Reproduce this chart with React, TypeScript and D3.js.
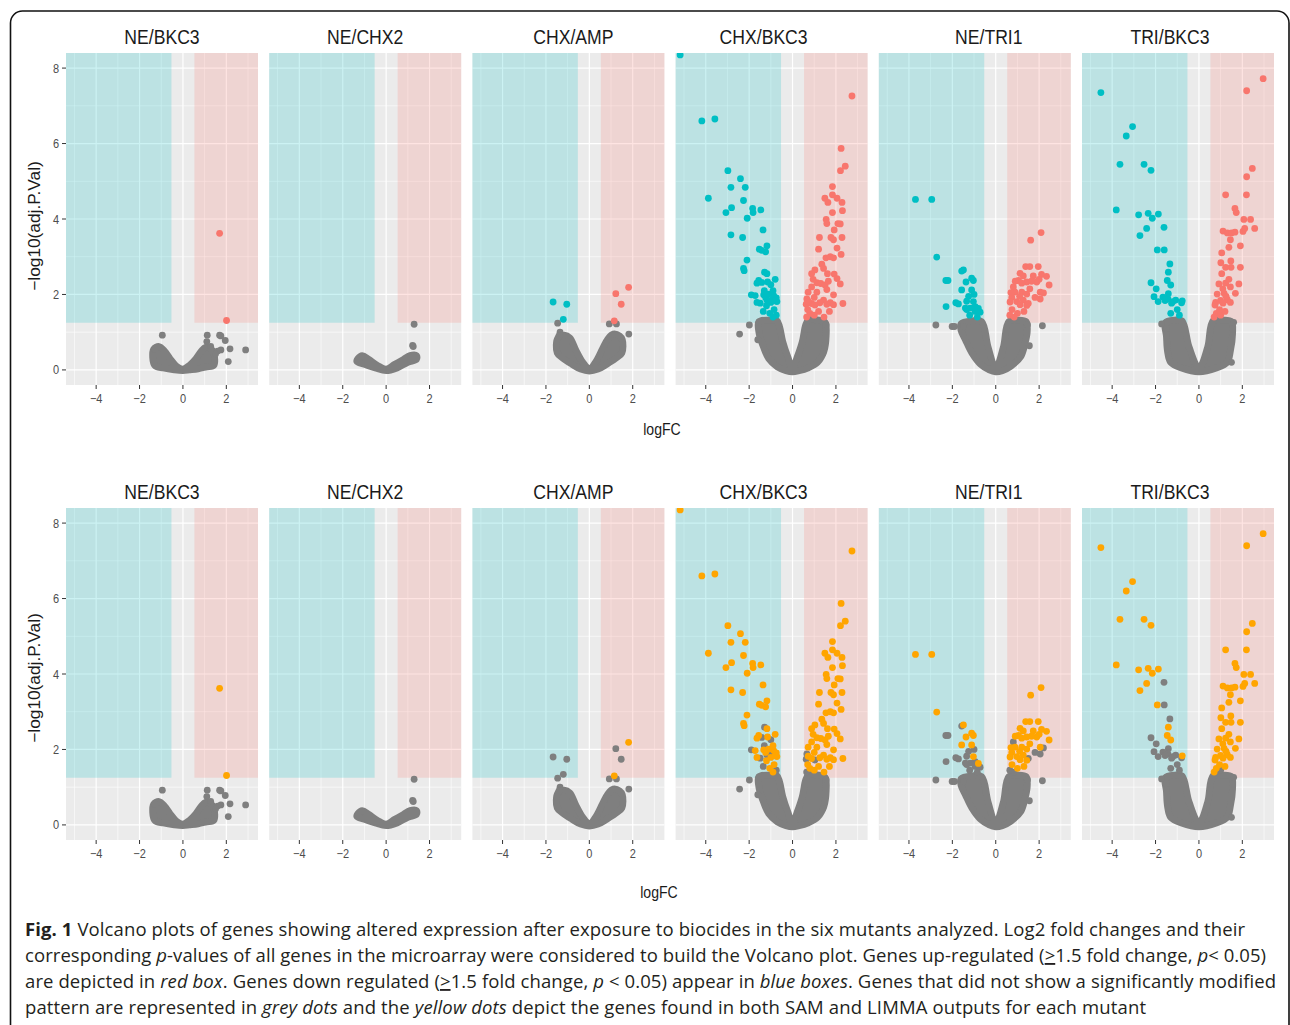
import React from "react";
import * as d3 from "d3";

type P2 = [number, number];
type P3 = [number, number, number];

// ---------- DATA ----------
const panelTitles = ["NE/BKC3", "NE/CHX2", "CHX/AMP", "CHX/BKC3", "NE/TRI1", "TRI/BKC3"];
const xTicks = [-4, -2, 0, 2];
const xMinor = [-5, -3, -1, 1, 3];
const yTicks = [0, 2, 4, 6, 8];
const yMinor = [1, 3, 5, 7];
const fcThreshold = 0.53;
const pThreshold = 1.25;

// grey cloud outlines (logFC, -log10 p)
const cloudNEBKC3: P2[] = [[-1.35,0.55],[-1.1,0.62],[-0.85,0.5],[-0.6,0.3],[-0.3,0.1],[0,0.02],[0.3,0.12],[0.6,0.3],[0.85,0.5],[1.05,0.6],[1.25,0.58],[1.42,0.45],[1.42,0.12],[1.1,0.08],[0.7,0.03],[0.3,0.0],[0,-0.02],[-0.4,0.0],[-0.9,0.05],[-1.3,0.12]];
const cloudNECHX2: P2[] = [[-1.3,0.3],[-1.1,0.38],[-0.8,0.28],[-0.4,0.12],[0,0.02],[0.4,0.15],[0.8,0.28],[1.1,0.38],[1.4,0.38],[1.4,0.28],[1.0,0.2],[0.5,0.05],[0,-0.02],[-0.5,0.05],[-1.0,0.15],[-1.35,0.22]];
const cloudCHXAMP: P2[] = [[-1.45,0.85],[-1.15,0.92],[-0.9,0.85],[-0.6,0.5],[-0.3,0.2],[0,0.03],[0.3,0.22],[0.6,0.55],[0.85,0.82],[1.1,0.95],[1.4,0.9],[1.52,0.8],[1.5,0.45],[1.2,0.3],[0.8,0.15],[0.4,0.02],[0,-0.03],[-0.4,0.02],[-0.8,0.15],[-1.2,0.3],[-1.48,0.45]];
const cloudCHXBKC3: P2[] = [[-1.55,1.28],[-1.0,1.32],[-0.72,1.3],[-0.6,1.15],[-0.45,0.75],[-0.22,0.35],[0,0.05],[0.22,0.35],[0.45,0.75],[0.6,1.18],[0.72,1.32],[1.2,1.32],[1.5,1.26],[1.55,0.9],[1.45,0.5],[1.15,0.2],[0.7,0.05],[0.3,-0.02],[0,-0.05],[-0.3,-0.02],[-0.7,0.08],[-1.1,0.3],[-1.4,0.7],[-1.55,1.0]];
const cloudNETRI1: P2[] = [[-1.6,1.22],[-1.1,1.3],[-0.65,1.28],[-0.35,0.6],[0,0.05],[0.35,0.6],[0.6,1.28],[1.0,1.32],[1.4,1.28],[1.45,1.0],[1.35,0.7],[1.15,0.35],[0.7,0.1],[0.3,-0.02],[0,-0.05],[-0.3,0.0],[-0.7,0.15],[-1.1,0.45],[-1.4,0.8],[-1.6,1.05]];
const cloudTRIBKC3: P2[] = [[-1.55,1.25],[-1.1,1.32],[-0.78,1.3],[-0.45,0.6],[0,0.05],[0.4,0.6],[0.65,1.3],[1.1,1.32],[1.5,1.28],[1.55,0.95],[1.45,0.5],[1.3,0.2],[0.8,0.05],[0,-0.05],[-0.8,0.05],[-1.3,0.2],[-1.45,0.5],[-1.5,0.9]];

// non-significant outliers
const greyNEBKC3: P2[] = [[-0.95,0.92],[1.12,0.92],[1.69,0.92],[1.75,0.9],[1.95,0.78],[2.17,0.56],[2.89,0.53],[2.09,0.22],[1.75,0.53],[1.28,0.62],[1.6,0.5],[1.5,0.42],[-1.3,0.55],[1.1,0.75]];
const greyNECHX2: P2[] = [[1.29,1.21],[1.22,0.65],[1.25,0.62]];
const greyCHXAMP: P2[] = [[-1.46,1.24],[-1.35,1.0],[0.92,1.22],[1.25,1.22],[1.82,0.95],[-1.4,0.9]];
const greyCHXBKC3: P2[] = [[-1.99,1.19],[-2.44,0.95],[1.4,0.44],[1.55,1.2],[-1.6,0.8]];
const greyNETRI1: P2[] = [[-2.76,1.19],[-2.01,1.15],[-1.9,1.15],[2.15,1.17],[1.46,1.2],[1.55,0.64],[-1.49,1.15]];
const greyTRIBKC3: P2[] = [[-1.72,1.22],[1.6,1.26],[-1.5,1.1],[1.5,0.2]];

// down-regulated (logFC, -log10 p, found in SAM & LIMMA)
const downNEBKC3: P3[] = [];
const downNECHX2: P3[] = [];
const downCHXAMP: P3[] = [[-1.67,1.80,0],[-1.04,1.74,0],[-1.2,1.34,0]];
const downCHXBKC3: P3[] = [[-5.18,8.35,1],[-4.18,6.60,1],[-3.58,6.65,1],[-2.98,5.28,1],[-2.40,5.07,1],[-2.84,4.84,1],[-2.18,4.84,1],[-3.88,4.55,1],[-2.26,4.49,1],[-2.81,4.30,1],[-3.07,4.17,1],[-1.84,4.28,1],[-1.82,4.17,1],[-1.46,4.24,1],[-2.09,4.02,1],[-1.36,3.71,1],[-2.84,3.58,1],[-2.30,3.51,1],[-1.18,3.29,1],[-1.53,3.20,1],[-1.42,3.17,1],[-1.24,3.13,1],[-2.10,2.91,1],[-2.26,2.69,1],[-2.23,2.63,1],[-1.29,2.59,0],[-1.18,2.55,1],[-0.80,2.40,1],[-1.56,2.37,1],[-1.64,2.30,1],[-1.42,2.32,0],[-1.0,2.26,0],[-1.15,2.33,1],[-1.90,1.99,0],[-1.72,1.97,1],[-1.33,1.99,1],[-0.87,1.97,1],[-1.24,1.92,1],[-0.75,1.91,1],[-0.95,1.86,0],[-1.18,1.85,0],[-1.64,1.79,1],[-1.49,1.77,0],[-1.0,1.79,1],[-0.72,1.81,1],[-0.8,1.83,1],[-1.1,2.01,1],[-1.3,2.1,0],[-0.9,2.1,1],[-1.2,1.7,1],[-0.85,1.6,1],[-1.05,1.5,1],[-0.75,1.45,0],[-1.35,1.55,0],[-0.9,1.4,1]];
const downNETRI1: P3[] = [[-3.70,4.52,1],[-2.95,4.52,1],[-2.72,2.99,1],[-1.49,2.65,1],[-1.57,2.62,0],[-2.30,2.37,0],[-2.2,2.37,0],[-1.11,2.43,1],[-1.03,2.37,1],[-1.37,2.33,1],[-1.57,2.12,1],[-1.11,2.12,1],[-1.84,1.78,0],[-1.72,1.75,0],[-1.34,1.82,0],[-1.03,1.81,1],[-2.29,1.68,0],[-0.95,1.68,0],[-1.18,1.64,0],[-0.80,1.63,1],[-1.34,1.60,0],[-0.95,1.55,0],[-0.72,1.53,0],[-1.4,1.64,0],[-1.2,1.45,0],[-0.85,1.4,0],[-1.0,2.0,0],[-1.25,1.95,0]];
const downTRIBKC3: P3[] = [[-4.52,7.35,1],[-3.06,6.45,1],[-3.35,6.20,1],[-3.64,5.45,1],[-2.53,5.45,1],[-2.21,5.29,1],[-3.81,4.24,1],[-2.78,4.11,1],[-2.34,4.15,1],[-2.15,4.02,1],[-1.87,4.13,1],[-2.41,3.75,1],[-1.61,3.78,0],[-2.72,3.56,1],[-1.92,3.18,1],[-1.60,3.18,0],[-1.34,2.81,0],[-1.41,2.59,1],[-2.21,2.31,0],[-1.97,2.15,0],[-1.46,2.37,1],[-1.3,2.25,1],[-2.07,1.94,0],[-1.66,1.93,0],[-1.41,2.02,0],[-1.43,1.88,0],[-1.56,1.84,0],[-1.88,1.81,0],[-1.07,1.85,0],[-0.77,1.83,1],[-1.2,1.81,0],[-1.26,1.77,0],[-0.8,1.78,0],[-1.0,1.6,0],[-1.3,1.5,0],[-0.9,1.45,0]];

// up-regulated
const upNEBKC3: P3[] = [[1.69,3.62,1],[2.01,1.31,1]];
const upNECHX2: P3[] = [];
const upCHXAMP: P3[] = [[1.22,2.02,0],[1.81,2.19,1],[1.47,1.74,0],[1.15,1.30,1]];
const upCHXBKC3: P3[] = [[2.74,7.26,1],[2.24,5.87,1],[2.43,5.40,1],[2.21,5.28,1],[1.84,4.86,1],[1.49,4.55,1],[1.84,4.64,1],[2.05,4.55,1],[2.28,4.44,1],[1.63,4.44,1],[1.84,4.17,1],[2.30,4.22,1],[1.55,3.99,1],[1.58,3.88,1],[2.09,3.88,1],[2.2,3.87,1],[1.92,3.71,1],[1.24,3.51,1],[1.77,3.51,1],[2.28,3.51,1],[1.89,3.45,1],[2.05,3.23,1],[1.20,3.20,1],[2.24,3.06,1],[1.54,2.97,1],[1.74,3.00,1],[1.89,2.97,1],[1.35,2.80,1],[1.03,2.65,1],[1.43,2.69,1],[0.88,2.55,1],[1.61,2.55,1],[1.92,2.54,1],[2.05,2.42,1],[1.12,2.31,1],[1.3,2.29,1],[1.5,2.25,1],[2.2,2.28,1],[0.88,2.20,1],[0.72,2.06,1],[1.12,2.06,1],[1.58,2.13,1],[1.89,1.99,1],[1.0,1.92,1],[0.66,1.88,0],[1.43,1.85,1],[1.26,1.78,1],[0.88,1.76,1],[1.74,1.78,1],[2.32,1.76,1],[0.63,1.74,0],[1.89,1.73,1],[1.58,1.74,1],[1.03,1.72,0],[0.72,1.82,1],[0.8,1.5,1],[1.0,1.45,1],[0.65,1.4,0],[1.2,1.55,1],[1.7,1.55,1],[0.95,2.4,1],[1.65,2.35,1],[0.7,1.6,1],[1.45,1.4,1]];
const upNETRI1: P3[] = [[2.09,3.64,1],[1.61,3.44,1],[1.38,2.74,1],[1.57,2.74,1],[1.96,2.74,1],[1.12,2.56,1],[1.27,2.49,1],[1.73,2.49,1],[2.11,2.53,1],[2.34,2.48,1],[2.46,2.25,1],[1.05,2.37,1],[1.43,2.33,1],[1.89,2.33,1],[2.05,2.06,1],[2.2,2.04,0],[1.81,1.92,0],[2.05,1.88,0],[0.81,2.2,0],[0.89,2.06,1],[1.2,2.06,1],[1.43,2.01,1],[1.57,2.15,1],[0.74,1.92,1],[0.97,1.81,1],[1.27,1.85,1],[0.66,1.8,1],[1.12,1.73,1],[1.43,1.71,1],[1.5,1.76,0],[0.75,1.6,1],[1.0,1.5,1],[0.65,1.45,0],[1.3,1.55,1],[0.9,2.35,1],[1.65,2.35,1],[2.0,2.4,1],[1.2,2.3,1],[0.85,1.4,0],[1.1,1.95,1],[0.7,2.05,1]];
const upTRIBKC3: P3[] = [[2.96,7.72,1],[2.20,7.40,1],[2.46,5.34,1],[2.20,5.12,1],[1.23,4.64,1],[2.19,4.64,1],[1.66,4.28,1],[1.72,4.17,1],[2.07,3.99,1],[2.38,3.99,1],[2.57,3.75,1],[1.11,3.68,1],[1.31,3.63,1],[1.50,3.63,1],[1.66,3.65,1],[2.03,3.67,1],[2.11,3.75,1],[1.45,3.45,1],[1.38,3.25,1],[1.91,3.29,1],[1.05,3.1,1],[1.01,2.84,1],[1.23,2.72,1],[1.47,2.89,1],[1.48,2.72,1],[1.91,2.72,1],[1.05,2.55,1],[1.23,2.3,1],[1.38,2.4,1],[1.84,2.28,1],[0.92,2.28,1],[1.45,2.2,1],[1.68,2.03,1],[1.16,2.03,1],[0.84,2.01,1],[1.31,1.86,1],[1.0,1.84,1],[0.77,1.79,1],[1.11,1.77,1],[1.45,1.79,1],[0.74,1.72,1],[0.8,1.5,1],[1.0,1.45,0],[1.2,1.55,1],[0.7,1.4,1],[1.1,2.15,1],[0.95,1.6,1],[1.25,1.95,1]];

const captionLines: (string | { t: string; s: "b" | "i" | "u" })[][] = [
  [{ t: "Fig. 1", s: "b" }, " Volcano plots of genes showing altered expression after exposure to biocides in the six mutants analyzed. Log2 fold changes and their"],
  ["corresponding ", { t: "p", s: "i" }, "-values of all genes in the microarray were considered to build the Volcano plot. Genes up-regulated (", { t: ">", s: "u" }, "1.5 fold change, ", { t: "p", s: "i" }, "< 0.05)"],
  ["are depicted in ", { t: "red box", s: "i" }, ". Genes down regulated (", { t: ">", s: "u" }, "1.5 fold change, ", { t: "p", s: "i" }, " < 0.05) appear in ", { t: "blue boxes", s: "i" }, ". Genes that did not show a significantly modified"],
  ["pattern are represented in ", { t: "grey dots", s: "i" }, " and the ", { t: "yellow dots", s: "i" }, " depict the genes found in both SAM and LIMMA outputs for each mutant"],
];

const clouds = [cloudNEBKC3, cloudNECHX2, cloudCHXAMP, cloudCHXBKC3, cloudNETRI1, cloudTRIBKC3];
const greys = [greyNEBKC3, greyNECHX2, greyCHXAMP, greyCHXBKC3, greyNETRI1, greyTRIBKC3];
const downs = [downNEBKC3, downNECHX2, downCHXAMP, downCHXBKC3, downNETRI1, downTRIBKC3];
const ups = [upNEBKC3, upNECHX2, upCHXAMP, upCHXBKC3, upNETRI1, upTRIBKC3];

// ---------- STYLE / LAYOUT ----------
const W = 1290, H = 1025;
const FONT = "'Liberation Sans', Arial, Helvetica, sans-serif";
const panelW = 192;
const panelStep = 203.2;
const panelLeft0 = 66;
const titleDx = [0, 0, 5, -8, 14, -8];
const rows = [
  { top: 53, bottom: 385, mode: "sig", xlabY: 435, xlabX: 662, ylabY: 226 },
  { top: 508, bottom: 840, mode: "both", xlabY: 898, xlabX: 659, ylabY: 678 },
];
const BG = "#ebebeb";
const CYAN = "#00BFC4";
const RED = "#F8766D";
const GREY = "#7f7f7f";
const ORANGE = "#FFA500";
const R = 3.4;
const SX = 0.88; // horizontal squeeze of plot text
const fmt = (v: number) => (v < 0 ? "\u2212" + Math.abs(v) : String(v));

function SText({ x, y, size, fill, anchor, children }: any) {
  return (
    <text
      transform={`translate(${x},${y}) scale(${SX},1)`}
      textAnchor={anchor || "middle"}
      fontSize={size}
      fill={fill}
      fontFamily={FONT}
    >
      {children}
    </text>
  );
}

function Panel({ i, row }: { i: number; row: typeof rows[number] }) {
  const x0 = panelLeft0 + i * panelStep;
  const x = d3.scaleLinear().domain([-5.39, 3.46]).range([x0, x0 + panelW]);
  const y = d3.scaleLinear().domain([-0.4, 8.4]).range([row.bottom, row.top]);
  const line = d3.line<P2>().x((d) => x(d[0])).y((d) => y(d[1])).curve(d3.curveCatmullRomClosed.alpha(0.5));
  const clipId = `clip-${i}-${row.top}`;
  const up = ups[i], down = downs[i];
  const isBoth = row.mode === "both";
  const colored = [...down.map((d) => ({ d, c: CYAN })), ...up.map((d) => ({ d, c: RED }))];
  const greyPts = isBoth ? colored.filter((o) => !o.d[2]) : [];
  const topPts = isBoth ? colored.filter((o) => o.d[2]).map((o) => ({ d: o.d, c: ORANGE })) : colored;
  return (
    <g>
      <defs>
        <clipPath id={clipId}>
          <rect x={x0} y={row.top} width={panelW} height={row.bottom - row.top} />
        </clipPath>
      </defs>
      <rect x={x0} y={row.top} width={panelW} height={row.bottom - row.top} fill={BG} />
      {xMinor.map((t) => (
        <line key={"xm" + t} x1={x(t)} x2={x(t)} y1={row.top} y2={row.bottom} stroke="#fff" strokeWidth={0.6} />
      ))}
      {yMinor.map((t) => (
        <line key={"ym" + t} x1={x0} x2={x0 + panelW} y1={y(t)} y2={y(t)} stroke="#fff" strokeWidth={0.6} />
      ))}
      {xTicks.map((t) => (
        <line key={"xg" + t} x1={x(t)} x2={x(t)} y1={row.top} y2={row.bottom} stroke="#fff" strokeWidth={1.2} />
      ))}
      {yTicks.map((t) => (
        <line key={"yg" + t} x1={x0} x2={x0 + panelW} y1={y(t)} y2={y(t)} stroke="#fff" strokeWidth={1.2} />
      ))}
      <rect x={x0} y={row.top} width={x(-fcThreshold) - x0} height={y(pThreshold) - row.top} fill={CYAN} fillOpacity={0.2} />
      <rect x={x(fcThreshold)} y={row.top} width={x0 + panelW - x(fcThreshold)} height={y(pThreshold) - row.top} fill={RED} fillOpacity={0.2} />
      <g clipPath={`url(#${clipId})`}>
        <path d={line(clouds[i]) || ""} fill={GREY} stroke={GREY} strokeWidth={2 * R} strokeLinejoin="round" />
        {greys[i].map((d, k) => (
          <circle key={"g" + k} cx={x(d[0])} cy={y(d[1])} r={R} fill={GREY} />
        ))}
        {greyPts.map((o, k) => (
          <circle key={"gp" + k} cx={x(o.d[0])} cy={y(o.d[1])} r={R} fill={GREY} />
        ))}
        {topPts.map((o, k) => (
          <circle key={"c" + k} cx={x(o.d[0])} cy={y(o.d[1])} r={R} fill={o.c} />
        ))}
      </g>
      {xTicks.map((t) => (
        <g key={"xt" + t}>
          <line x1={x(t)} x2={x(t)} y1={row.bottom} y2={row.bottom + 4} stroke="#333" strokeWidth={1} />
          <SText x={x(t)} y={row.bottom + 18} size={12.5} fill="#4d4d4d">
            {fmt(t)}
          </SText>
        </g>
      ))}
      <SText x={x0 + panelW / 2 + titleDx[i]} y={row.top - 9} size={20} fill="#1a1a1a">
        {panelTitles[i]}
      </SText>
      {i === 0 &&
        yTicks.map((t) => (
          <g key={"yt" + t}>
            <line x1={x0 - 4} x2={x0} y1={y(t)} y2={y(t)} stroke="#333" strokeWidth={1} />
            <SText x={x0 - 7} y={y(t) + 4.5} size={12.5} fill="#4d4d4d" anchor="end">
              {fmt(t)}
            </SText>
          </g>
        ))}
    </g>
  );
}

export default function App() {
  const captionX = 25;
  const captionY = [936, 962, 988, 1014];
  const captionLen = [1220, 1241, 1251, 1121];
  return (
    <svg width={W} height={H} style={{ position: "absolute", left: 0, top: 0, background: "#fff" }}>
      <rect x={0} y={0} width={W} height={H} fill="#fff" />
      <rect x={10.5} y={11} width={1278.5} height={1040} rx={12} ry={12} fill="none" stroke="#111" strokeWidth={1.6} />
      {rows.map((row, ri) => (
        <g key={ri}>
          {panelTitles.map((_, i) => (
            <Panel key={i} i={i} row={row} />
          ))}
          <text
            transform={`translate(40,${row.ylabY}) rotate(-90) scale(1.08,1)`}
            textAnchor="middle"
            fontSize={16}
            fill="#1a1a1a"
            fontFamily={FONT}
          >
            {"\u2212log10(adj.P.Val)"}
          </text>
          <SText x={row.xlabX} y={row.xlabY} size={16} fill="#1a1a1a">
            logFC
          </SText>
        </g>
      ))}
      {captionLines.map((ln, li) => (
        <text
          key={li}
          x={captionX}
          y={captionY[li]}
          fontSize={18.5}
          fill="#231f20"
          fontFamily="'Open Sans', 'Noto Sans', sans-serif"
          textLength={captionLen[li]}
          lengthAdjust="spacing"
        >
          {ln.map((seg, k) =>
            typeof seg === "string" ? (
              <tspan key={k}>{seg}</tspan>
            ) : (
              <tspan
                key={k}
                fontWeight={seg.s === "b" ? 700 : undefined}
                fontStyle={seg.s === "i" ? "italic" : undefined}
                style={seg.s === "u" ? { textDecoration: "underline" } : undefined}
              >
                {seg.t}
              </tspan>
            )
          )}
        </text>
      ))}
    </svg>
  );
}
